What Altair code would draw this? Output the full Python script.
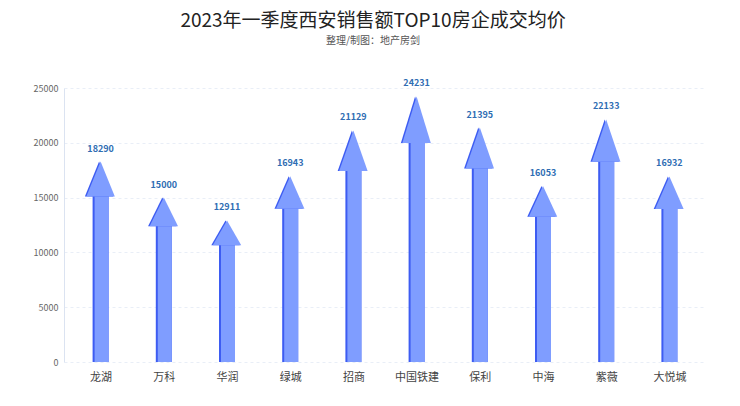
import json
import altair as alt
import pandas as pd

# --- data ---
companies = ["龙湖", "万科", "华润", "绿城", "招商", "中国铁建", "保利", "中海", "紫薇", "大悦城"]
avg_price = [18290, 15000, 12911, 16943, 21129, 24231, 21395, 16053, 22133, 16932]
y_ticks = [0, 5000, 10000, 15000, 20000, 25000]

TITLE = "2023年一季度西安销售额TOP10房企成交均价"
SUBTITLE = "整理/制图：地产房剑"

LIGHT = "#7f9dff"
DARK = "#3d5cf2"
FONT = "Noto Sans CJK SC"

df = pd.DataFrame({"name": companies, "value": avg_price, "idx": range(len(companies))})

x_scale = alt.Scale(domain=[-0.5, len(companies) - 0.5], nice=False, zero=False)
y_scale = alt.Scale(domain=[0, 25000], nice=False)

label_expr = json.dumps(companies, ensure_ascii=False) + "[datum.value]"

base = alt.Chart(df).transform_calculate(
    shaft="datum.value * 0.835",
    head_base="datum.value * 0.825",
)

# arrow shaft (dark edge + light body)
shaft_dark = base.mark_bar(width=16, color=DARK).encode(
    x=alt.X(
        "idx:Q",
        scale=x_scale,
        title=None,
        axis=alt.Axis(
            values=list(range(len(companies))),
            labelExpr=label_expr,
            grid=False,
            ticks=False,
            domain=False,
            labelPadding=9,
            labelFontSize=11,
            labelColor="#444444",
            labelFont=FONT,
        ),
    ),
    y=alt.Y(
        "shaft:Q",
        scale=y_scale,
        title=None,
        axis=alt.Axis(
            values=y_ticks,
            format="d",
            grid=True,
            gridDash=[3, 3],
            gridColor="#e9eef7",
            ticks=False,
            domain=True,
            domainColor="#dbe3f1",
            labelPadding=6,
            labelFontSize=9,
            labelColor="#666666",
            labelFont=FONT,
        ),
    ),
)
shaft_light = base.mark_bar(width=14, xOffset=1, color=LIGHT).encode(
    x=alt.X("idx:Q", scale=x_scale),
    y=alt.Y("shaft:Q", scale=y_scale),
)

# arrow head as a triangle (left corner, tip, right corner)
head = base.transform_calculate(
    px="[datum.idx - 0.225, datum.idx, datum.idx + 0.225]",
    py="[datum.head_base, datum.value, datum.head_base]",
).transform_flatten(["px", "py"])

head_dark = head.mark_area(color=DARK, xOffset=-1.5).encode(
    x=alt.X("px:Q", scale=x_scale),
    y=alt.Y("py:Q", scale=y_scale),
    y2="head_base:Q",
    detail="name:N",
)
head_light = head.mark_area(color=LIGHT).encode(
    x=alt.X("px:Q", scale=x_scale),
    y=alt.Y("py:Q", scale=y_scale),
    y2="head_base:Q",
    detail="name:N",
)

labels = base.mark_text(
    dy=-8, baseline="bottom", fontSize=9, fontWeight="bold", color="#2f6db3", font=FONT
).encode(
    x=alt.X("idx:Q", scale=x_scale),
    y=alt.Y("value:Q", scale=y_scale),
    text="value:Q",
)

chart = (
    alt.layer(shaft_dark, shaft_light, head_dark, head_light, labels)
    .properties(
        width=642,
        height=274,
        autosize=alt.AutoSizeParams(type="none"),
        padding={"left": 56, "top": 80, "right": 26, "bottom": 36},
        background="white",
        title=alt.TitleParams(
            text=TITLE,
            subtitle=SUBTITLE,
            anchor="middle",
            dx=-12,
            offset=33,
            font=FONT,
            fontSize=19,
            fontWeight="normal",
            color="#222222",
            subtitleFont=FONT,
            subtitleFontSize=10,
            subtitleColor="#555555",
            subtitlePadding=5,
        ),
    )
    .configure_view(stroke=None)
)

chart.save("out.html", embed_options={"renderer": "svg", "actions": False})
